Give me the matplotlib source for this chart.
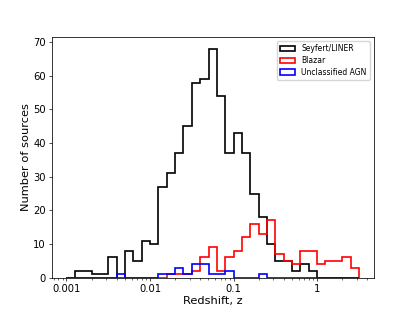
import numpy as np
import matplotlib.pyplot as plt

# log-spaced redshift bins, 0.1 dex wide from z=0.001 to z~3.16
bin_edges = np.logspace(-3, 0.5, 36)

seyfert_counts = [0, 2, 2, 1, 1, 6, 0, 8, 5, 11, 10, 27, 31, 37, 45, 58, 59, 68,
                  54, 37, 43, 37, 25, 18, 10, 5, 5, 2, 4, 2, 0, 0, 0, 0, 0]
blazar_counts = [0, 0, 0, 0, 0, 0, 0, 0, 0, 0, 0, 0, 1, 1, 1, 2, 6, 9,
                 2, 6, 8, 12, 16, 13, 17, 7, 5, 4, 8, 8, 4, 5, 5, 6, 3]
unclass_counts = [0, 0, 0, 0, 0, 0, 1, 0, 0, 0, 0, 1, 1, 3, 1, 4, 4, 1,
                  1, 2, 0, 0, 0, 1, 0, 0, 0, 0, 0, 0, 0, 0, 0, 0, 0]

plt.rcParams['font.family'] = 'DejaVu Sans'

centers = np.sqrt(bin_edges[:-1] * bin_edges[1:])

fig, ax = plt.subplots(figsize=(4.15, 3.12), dpi=100)
fig.subplots_adjust(left=0.125, right=0.9, bottom=0.11, top=0.88)

ax.hist(centers, bins=bin_edges, weights=seyfert_counts, histtype='step',
        color='black', lw=1.2, label='Seyfert/LINER')
ax.hist(centers, bins=bin_edges, weights=blazar_counts, histtype='step',
        color='red', lw=1.2, label='Blazar')
ax.hist(centers, bins=bin_edges, weights=unclass_counts, histtype='step',
        color='blue', lw=1.2, label='Unclassified AGN')

ax.set_xscale('log')
ax.set_xticks([0.001, 0.01, 0.1, 1])
ax.set_xticklabels(['0.001', '0.01', '0.1', '1'])
ax.set_yticks(range(0, 71, 10))

ax.set_xlabel('Redshift, z', fontsize=8.2, labelpad=2)
ax.set_ylabel('Number of sources', fontsize=8.2, labelpad=2)
ax.tick_params(axis='both', which='major', labelsize=7.2, length=2.3, width=0.5, pad=2)
ax.tick_params(axis='both', which='minor', length=1.3, width=0.4)
for sp in ax.spines.values():
    sp.set_linewidth(0.55)

ax.legend(loc='upper right', fontsize=5.5, handlelength=2.0, borderpad=0.4,
          labelspacing=0.35, fancybox=True, framealpha=0.8)

fig.savefig('out.png', dpi=100)
